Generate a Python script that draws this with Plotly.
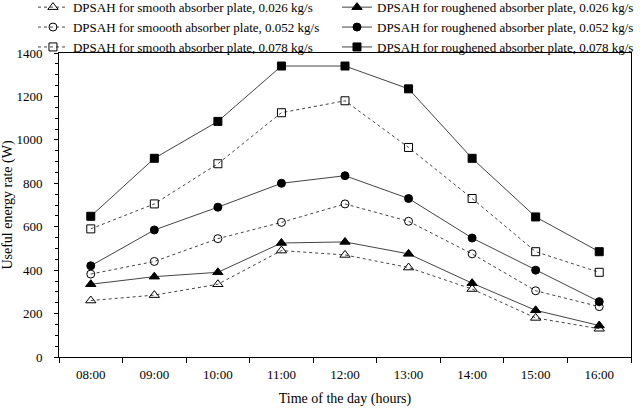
import plotly.graph_objects as go

hours = ['08:00', '09:00', '10:00', '11:00', '12:00', '13:00', '14:00', '15:00', '16:00']

# useful energy rate (W)
smooth_026 = [260, 285, 335, 490, 470, 412, 313, 180, 130]
smooth_052 = [382, 440, 545, 620, 705, 625, 475, 305, 232]
smooth_078 = [590, 705, 890, 1125, 1180, 965, 730, 485, 390]
rough_026 = [335, 370, 390, 525, 530, 475, 340, 215, 145]
rough_052 = [420, 585, 690, 800, 835, 730, 548, 400, 255]
rough_078 = [648, 915, 1085, 1340, 1340, 1235, 915, 645, 485]

serif = '"Times New Roman", "Liberation Serif", "DejaVu Serif", serif'

# smooth plates go in the left legend column, roughened ones in the right
series = [
    ('DPSAH for smooth absorber plate, 0.026 kg/s', smooth_026, 'triangle-up-open', 'dot', 9, 'legend'),
    ('DPSAH for smoooth absorber plate, 0.052 kg/s', smooth_052, 'circle-open', 'dot', 8, 'legend'),
    ('DPSAH for smooth absorber plate, 0.078 kg/s', smooth_078, 'square-open', 'dot', 8, 'legend'),
    ('DPSAH for roughened absorber plate, 0.026 kg/s', rough_026, 'triangle-up', 'solid', 9, 'legend2'),
    ('DPSAH for roughened absorber plate, 0.052 kg/s', rough_052, 'circle', 'solid', 8, 'legend2'),
    ('DPSAH for roughened absorber plate, 0.078 kg/s', rough_078, 'square', 'solid', 8, 'legend2'),
]

fig = go.Figure()
for name, vals, sym, dash, size, leg in series:
    fig.add_trace(go.Scatter(
        x=hours, y=vals, name=name, mode='lines+markers', legend=leg,
        line=dict(color='#444444', width=1, dash=dash),
        marker=dict(symbol=sym, size=size, color='black', line=dict(color='black', width=1)),
    ))

legend_style = dict(yanchor='top', y=1.2, xanchor='left', tracegroupgap=0,
                    font=dict(size=13, family=serif, color='black'),
                    itemwidth=30, bgcolor='rgba(0,0,0,0)')

fig.update_layout(
    width=640, height=409,
    margin=dict(l=59, r=9, t=53, b=52, autoexpand=False),
    plot_bgcolor='white', paper_bgcolor='white',
    font=dict(family=serif, size=13, color='black'),
    showlegend=True,
    legend=dict(x=-0.0455, **legend_style),
    legend2=dict(x=0.486, **legend_style),
)
fig.update_xaxes(
    type='category', range=[-0.5, 8.5], showline=True, linecolor='black', linewidth=1,
    mirror=True, ticks='outside', tickson='boundaries', ticklen=5, tickcolor='black',
    showgrid=False, ticklabelstandoff=5,
    title=dict(text='Time of the day (hours)', font=dict(size=14, family=serif), standoff=12),
    tickfont=dict(size=13, family=serif),
)
fig.update_yaxes(
    range=[0, 1400], dtick=200, showline=True, linecolor='black', linewidth=1,
    mirror=True, ticks='outside', ticklen=4, tickcolor='black', showgrid=False,
    zeroline=False, ticklabelstandoff=9,
    minor=dict(dtick=50, ticks='outside', ticklen=3, tickcolor='black', showgrid=False),
    title=dict(text='Useful energy rate (W)', font=dict(size=14, family=serif), standoff=0),
    tickfont=dict(size=13, family=serif),
)

# drop the default page margin so the figure sits at the window's corner
fig.write_html('out.html', config={'displayModeBar': False},
               post_script="document.body.style.margin = '0';")
